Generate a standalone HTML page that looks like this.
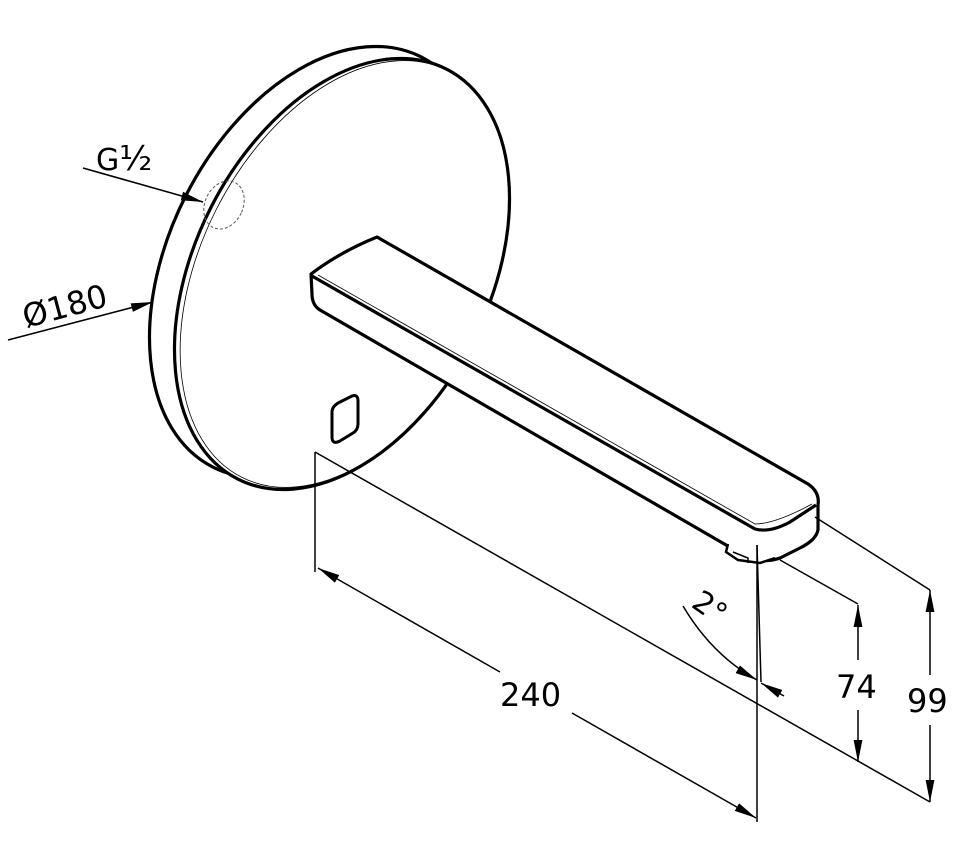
<!DOCTYPE html>
<html><head><meta charset="utf-8"><style>
html,body{margin:0;padding:0;background:#fff}
svg{display:block}
text{font-family:"DejaVu Sans","Liberation Sans",sans-serif;fill:#000}
</style></head><body>
<svg width="968" height="863" viewBox="0 0 968 863" xmlns="http://www.w3.org/2000/svg">
<defs>
<marker id="b" viewBox="0 0 20 10" refX="20" refY="5" markerWidth="22" markerHeight="11" markerUnits="userSpaceOnUse" orient="auto"><path d="M0,1 L20,5 L0,9 Z" fill="#000"/></marker>
</defs>
<!-- disc back rim -->
<ellipse cx="0" cy="0" rx="230" ry="147" transform="translate(317,262) rotate(-63)" fill="#fff" stroke="#000" stroke-width="3.2"/>
<!-- disc front face -->
<ellipse cx="0" cy="0" rx="230" ry="147" transform="translate(342,274) rotate(-63)" fill="#fff" stroke="#000" stroke-width="3.2"/>
<ellipse cx="0" cy="0" rx="228" ry="144" transform="translate(345,274) rotate(-63)" fill="none" stroke="#000" stroke-width="0.8"/>
<!-- dashed circle -->
<ellipse cx="224" cy="205" rx="19" ry="25" transform="rotate(25 224 205)" fill="none" stroke="#555" stroke-width="1" stroke-dasharray="3,2"/>
<!-- sensor window -->
<path d="M340,402 L352,396 Q358,394 358,401 L358,424 Q358,430 353,433 L340,441 Q332,445 332,437 L332,412 Q332,406 340,402 Z" fill="none" stroke="#000" stroke-width="3"/>
<!-- spout -->
<path d="M311,274 Q340,252 377,237 L808,484 Q820,492 818,505 L818,530 Q816,540 800,548 L780,558 Q770,562 752,560 L320,310 Q312,305 312,294 Z" fill="#fff" stroke="#000" stroke-width="3.2" stroke-linejoin="round"/>
<path d="M312,276 L755,529 Q770,533 790,522 L816,505" fill="none" stroke="#000" stroke-width="3.2" stroke-linejoin="round"/>
<path d="M318,275 L755,524 Q775,524 812,504" fill="none" stroke="#000" stroke-width="0.8"/>
<!-- outlet -->
<path d="M728,544 L726,552 L738,560 L760,563 L775,558" fill="#fff" stroke="#000" stroke-width="2.5"/>
<path d="M733,552 L748,558 L748,563" fill="none" stroke="#000" stroke-width="1.5"/>
<!-- labels -->
<text x="96" y="170" font-size="30">G<tspan font-size="34">½</tspan></text>
<line x1="83" y1="168" x2="203" y2="202" stroke="#000" stroke-width="1.6" marker-end="url(#b)"/>
<text x="0" y="0" font-size="32" transform="translate(26,328) rotate(-15)">Ø180</text>
<line x1="8" y1="340" x2="153" y2="302" stroke="#000" stroke-width="1.6" marker-end="url(#b)"/>
<!-- extension lines -->
<line x1="315" y1="452" x2="315" y2="572" stroke="#000" stroke-width="1.5"/>
<line x1="315" y1="452" x2="930" y2="802" stroke="#000" stroke-width="1.5"/>
<line x1="757" y1="545" x2="757" y2="822" stroke="#000" stroke-width="1.5"/>
<line x1="757" y1="545" x2="761" y2="682" stroke="#000" stroke-width="1.5"/>
<line x1="780" y1="560" x2="858" y2="604" stroke="#000" stroke-width="1.5"/>
<line x1="815" y1="517" x2="930" y2="590" stroke="#000" stroke-width="1.5"/>
<!-- 240 -->
<line x1="500" y1="672" x2="318" y2="568" stroke="#000" stroke-width="1.5" marker-end="url(#b)"/>
<line x1="572" y1="713" x2="756" y2="818" stroke="#000" stroke-width="1.5" marker-end="url(#b)"/>
<text x="500" y="706" font-size="32">240</text>
<!-- 2 deg -->
<path d="M683,606 Q712,655 757,680" fill="none" stroke="#000" stroke-width="1.5" marker-end="url(#b)"/>
<line x1="784" y1="696" x2="761" y2="683" stroke="#000" stroke-width="1.5" marker-end="url(#b)"/>
<text x="0" y="0" font-size="30" transform="translate(690,606) rotate(35)">2°</text>
<!-- 74 -->
<line x1="858" y1="660" x2="858" y2="605" stroke="#000" stroke-width="1.5" marker-end="url(#b)"/>
<line x1="858" y1="710" x2="858" y2="762" stroke="#000" stroke-width="1.5" marker-end="url(#b)"/>
<text x="836" y="698" font-size="32">74</text>
<!-- 99 -->
<line x1="930" y1="675" x2="930" y2="590" stroke="#000" stroke-width="1.5" marker-end="url(#b)"/>
<line x1="930" y1="725" x2="930" y2="802" stroke="#000" stroke-width="1.5" marker-end="url(#b)"/>
<text x="907" y="712" font-size="32">99</text>
</svg>
</body></html>
